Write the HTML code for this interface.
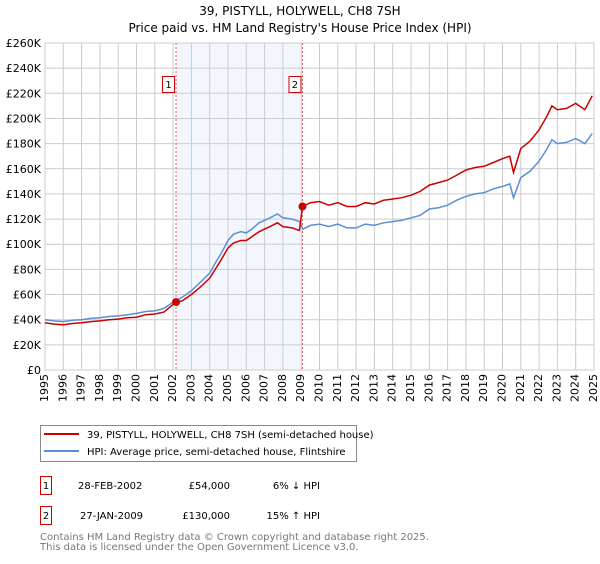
<!DOCTYPE html>
<html><head><meta charset="utf-8"><style>
body{margin:0;background:#fff;font-family:"DejaVu Sans","Liberation Sans",sans-serif}
svg text{font-family:"DejaVu Sans","Liberation Sans",sans-serif}
</style></head><body>
<svg id="c" width="600" height="560" viewBox="0 0 600 560">
<text x="300" y="15" text-anchor="middle" font-size="12">39, PISTYLL, HOLYWELL, CH8 7SH</text>
<text x="300" y="32" text-anchor="middle" font-size="12">Price paid vs. HM Land Registry's House Price Index (HPI)</text>
<g id="grid"></g><g id="axes"></g><g id="series"></g>
<g>
<rect x="40.5" y="425.5" width="316" height="36" fill="#fff" stroke="#888"/>
<line x1="44" y1="434" x2="79" y2="434" stroke="#cc0000" stroke-width="2"/>
<text x="87" y="438" font-size="10">39, PISTYLL, HOLYWELL, CH8 7SH (semi-detached house)</text>
<line x1="44" y1="451" x2="79" y2="451" stroke="#5b8fd4" stroke-width="2"/>
<text x="87" y="455" font-size="10">HPI: Average price, semi-detached house, Flintshire</text>
</g>
<g font-size="10">
<rect x="40.5" y="476.5" width="11" height="18" fill="#fff" stroke="#cc0000"/><text x="46" y="489" text-anchor="middle">1</text>
<text x="78" y="489">28-FEB-2002</text><text x="230" y="489" text-anchor="end">£54,000</text><text x="320" y="489" text-anchor="end">6% ↓ HPI</text>
<rect x="40.5" y="506.5" width="11" height="18" fill="#fff" stroke="#cc0000"/><text x="46" y="519" text-anchor="middle">2</text>
<text x="80" y="519">27-JAN-2009</text><text x="230" y="519" text-anchor="end">£130,000</text><text x="320" y="519" text-anchor="end">15% ↑ HPI</text>
</g>
<text x="40" y="540" font-size="10" fill="#777">Contains HM Land Registry data © Crown copyright and database right 2025.</text>
<text x="40" y="550" font-size="10" fill="#777">This data is licensed under the Open Government Licence v3.0.</text>
</svg>
<script>
const yTicks=[0,20,40,60,80,100,120,140,160,180,200,220,240,260];
const xYears=[1995,1996,1997,1998,1999,2000,2001,2002,2003,2004,2005,2006,2007,2008,2009,2010,2011,2012,2013,2014,2015,2016,2017,2018,2019,2020,2021,2022,2023,2024,2025];
const hpiT=[1995,1995.5,1996,1996.5,1997,1997.5,1998,1998.5,1999,1999.5,2000,2000.5,2001,2001.5,2002,2002.5,2003,2003.5,2004,2004.3,2004.6,2005,2005.3,2005.7,2006,2006.3,2006.7,2007,2007.3,2007.7,2008,2008.5,2008.9,2009.1,2009.5,2010,2010.5,2011,2011.5,2012,2012.5,2013,2013.5,2014,2014.5,2015,2015.5,2016,2016.5,2017,2017.5,2018,2018.5,2019,2019.5,2020,2020.4,2020.6,2021,2021.5,2022,2022.4,2022.7,2023,2023.5,2024,2024.5,2024.9];
const hpiV=[40,39,38.5,39.5,40,41,41.5,42.5,43,44,45,46.5,47,49,54,58,63,70,77,85,92,103,108,110,109,112,117,119,121,124,121,120,118,112,115,116,114,116,113,113,116,115,117,118,119,121,123,128,129,131,135,138,140,141,144,146,148,137,153,158,166,175,183,180,181,184,180,188];
const redT=[1995,1995.5,1996,1996.5,1997,1997.5,1998,1998.5,1999,1999.5,2000,2000.5,2001,2001.5,2002.16,2002.5,2003,2003.5,2004,2004.3,2004.6,2005,2005.3,2005.7,2006,2006.3,2006.7,2007,2007.3,2007.7,2008,2008.5,2008.9,2009.0,2009.07,2009.5,2010,2010.5,2011,2011.5,2012,2012.5,2013,2013.5,2014,2014.5,2015,2015.5,2016,2016.5,2017,2017.5,2018,2018.5,2019,2019.5,2020,2020.4,2020.6,2021,2021.5,2022,2022.4,2022.7,2023,2023.5,2024,2024.5,2024.9];
const redV=[37.5,36.5,36,37,37.5,38.5,39,40,40.5,41.5,42,44,44.5,46,54,55,60,66,73,80,87,97,101,103,103,106,110,112,114,117,114,113,111,122,130,133,134,131,133,130,130,133,132,135,136,137,139,142,147,149,151,155,159,161,162,165,168,170,157,176,182,191,201,210,207,208,212,207,218];
const sales=[{t:2002.16,v:54,l:"1"},{t:2009.07,v:130,l:"2"}];
const L=45,R=594,T=43,B=370;
const xs=t=>L+(t-1995)/30*(R-L), ys=v=>B-v/260*(B-T);
const ns="http://www.w3.org/2000/svg";
function mk(tag,at,p){const e=document.createElementNS(ns,tag);for(const k in at)e.setAttribute(k,at[k]);p.appendChild(e);return e;}
const g=document.getElementById('grid'),ax=document.getElementById('axes'),s=document.getElementById('series');
const sh=mk('rect',{x:xs(sales[0].t),y:T,width:xs(sales[1].t)-xs(sales[0].t),height:B-T,fill:'#eef3fc',opacity:0.7},g);

yTicks.forEach(v=>{const y=ys(v);
const ln=mk('line',{x1:L,x2:R,y1:y,y2:y,stroke:'#ccc'},g);

const tx=mk('text',{x:L-4,y:y+4,'text-anchor':'end','font-size':11},ax);tx.textContent=v==0?'£0':'£'+v+'K';
});
xYears.forEach(yr=>{const x=xs(yr);
const ln=mk('line',{x1:x,x2:x,y1:T,y2:B,stroke:'#ccc'},g);

const tx=mk('text',{x:x,y:B+4,'font-size':11,transform:`rotate(-90 ${x} ${B+4})`,'text-anchor':'end','dominant-baseline':'middle'},ax);tx.textContent=yr;
});
const fr=mk('rect',{x:L,y:T,width:R-L,height:B-T,fill:'none',stroke:'#ccc'},g);

sales.forEach(o=>{const x=xs(o.t);
const d=mk('line',{x1:x,x2:x,y1:T,y2:B,stroke:'#e06060','stroke-dasharray':'2,2'},s);
});
function path(ts,vs,col,name){const d=ts.map((t,i)=>(i?'L':'M')+xs(t).toFixed(1)+','+ys(vs[i]).toFixed(1)).join('');
const p=mk('path',{d:d,fill:'none',stroke:col,'stroke-width':1.5},s);
}
path(hpiT,hpiV,'#5b8fd4','hpi-line');
path(redT,redV,'#cc0000','price-paid-line');
sales.forEach(o=>{const x=xs(o.t),y=ys(o.v);
const c=mk('circle',{cx:x,cy:y,r:4,fill:'#cc0000'},s);

const b=mk('rect',{x:x-13.5,y:76.5,width:12,height:16,fill:'#fff',stroke:'#cc0000'},s);

const t=mk('text',{x:x-7.5,y:88,'font-size':10,'text-anchor':'middle'},s);t.textContent=o.l;
});
</script>
</body></html>
